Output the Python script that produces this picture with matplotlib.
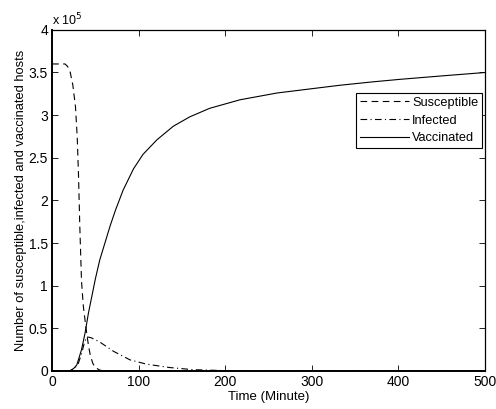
import numpy as np
import matplotlib
matplotlib.use('Agg')
import matplotlib.pyplot as plt
from matplotlib.ticker import FuncFormatter

plt.rcParams['font.family'] = ['Liberation Sans', 'DejaVu Sans']

# time (minutes) and host counts (x 1e5)
t_sus = [0, 15, 18, 21, 24, 27, 29, 30.5, 32, 34, 36, 38, 40, 42, 44, 47, 50,
         55, 60, 500]
sus = [3.6, 3.6, 3.57, 3.5, 3.35, 3.1, 2.75, 2.3, 1.7, 1.05, 0.77, 0.6, 0.44,
       0.3, 0.19, 0.09, 0.04, 0.01, 0.0, 0.0]

t_inf = [0, 20, 25, 30, 34, 37, 40, 45, 55, 71, 90, 109, 136, 163, 200, 250, 500]
inf = [0.0, 0.0, 0.02, 0.08, 0.2, 0.32, 0.4, 0.39, 0.34, 0.23, 0.13, 0.08,
       0.04, 0.015, 0.004, 0.001, 0.0]

t_vac = [0, 18, 21, 25, 28.5, 31, 34, 38, 42, 46, 50, 55, 61, 67, 73, 82, 94,
         105, 121, 140, 159, 182, 217, 260, 300, 332, 370, 402, 450, 500]
vac = [0.0, 0.0, 0.005, 0.03, 0.07, 0.15, 0.25, 0.44, 0.68, 0.88, 1.08, 1.30,
       1.50, 1.70, 1.88, 2.12, 2.37, 2.54, 2.71, 2.87, 2.98, 3.08, 3.18, 3.26,
       3.31, 3.35, 3.39, 3.42, 3.46, 3.5]

scale = 1e5
sus = np.array(sus) * scale
inf = np.array(inf) * scale
vac = np.array(vac) * scale

fig = plt.figure(figsize=(4.96, 4.09), dpi=100)
ax = fig.add_axes([0.105, 0.093, 0.873, 0.834])

ax.plot(t_sus, sus, color='k', lw=0.8, linestyle=(0, (6, 4)), label='Susceptible')
ax.plot(t_inf, inf, color='k', lw=0.8, linestyle=(0, (6, 3, 1, 3)), label='Infected')
ax.plot(t_vac, vac, color='k', lw=0.8, linestyle='-', label='Vaccinated')

ax.set_xlim(0, 500)
ax.set_ylim(0, 4e5)
ax.set_xticks(np.arange(0, 501, 100))
ax.set_yticks(np.arange(0, 4.01e5, 0.5e5))
ax.yaxis.set_major_formatter(FuncFormatter(lambda v, p: '%g' % (v / scale)))
ax.tick_params(direction='in', top=True, right=True, labelsize=10, length=4,
               width=0.6, pad=3)
for s in ax.spines.values():
    s.set_linewidth(0.9)
ax.spines['left'].set_linewidth(1.4)
ax.spines['bottom'].set_linewidth(1.4)

ax.text(0.0, 1.005, 'x 10$^5$', transform=ax.transAxes, fontsize=9, ha='left', va='bottom')

ax.set_xlabel('Time (Minute)', fontsize=9.5, labelpad=1)
ax.set_ylabel('Number of susceptible,infected and vaccinated hosts', fontsize=9.3, labelpad=1)

lgd = ax.legend(loc='upper right', bbox_to_anchor=(0.993, 0.815), fontsize=9.2,
                fancybox=False, edgecolor='k', framealpha=1, handlelength=3.9,
                borderpad=0.3, labelspacing=0.45, handletextpad=0.2, borderaxespad=0)
lgd.get_frame().set_linewidth(0.8)

plt.savefig('out.png', dpi=100)
